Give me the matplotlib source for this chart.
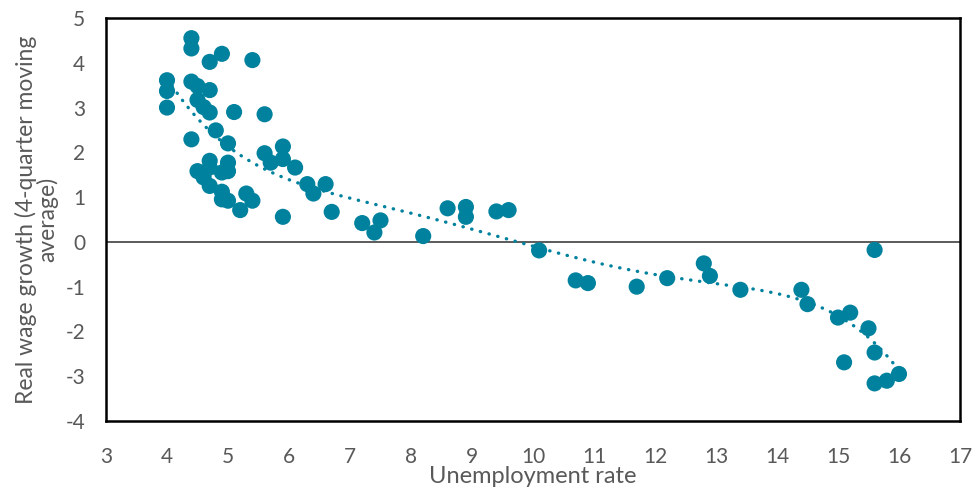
import matplotlib.pyplot as plt
import numpy as np

plt.rcParams['font.family'] = ['Lato', 'DejaVu Sans']
plt.rcParams['axes.unicode_minus'] = False

unemployment = [4.0, 4.0, 4.0, 4.4, 4.4, 4.4, 4.4, 4.5, 4.5, 4.6,
                4.7, 4.7, 4.7, 4.9, 5.4, 5.1, 5.6, 4.8, 5.0, 5.6,
                5.9, 5.7, 5.9, 6.1, 6.3, 6.4, 6.6, 6.7, 5.9, 4.5,
                4.7, 4.7, 5.0, 5.0, 4.6, 4.7, 4.9, 4.9, 4.9, 5.0,
                5.3, 5.4, 5.2,
                7.2, 7.4, 7.5, 8.2, 8.6, 8.9, 8.9, 9.4, 9.6,
                10.1, 10.7, 10.9, 11.7, 12.2, 12.8, 12.9, 13.4, 14.4, 14.5,
                15.0, 15.2, 15.5, 15.6, 15.6, 15.1, 15.6, 15.8, 16.0]
wage_growth = [3.61, 3.37, 3.0, 4.55, 4.32, 3.58, 2.29, 3.48, 3.17, 3.01,
               4.02, 3.39, 2.89, 4.20, 4.06, 2.90, 2.85, 2.49, 2.20, 1.98,
               2.13, 1.77, 1.85, 1.66, 1.29, 1.08, 1.29, 0.67, 0.56, 1.58,
               1.81, 1.66, 1.77, 1.58, 1.44, 1.25, 1.55, 1.12, 0.95, 0.92,
               1.08, 0.92, 0.71,
               0.42, 0.21, 0.48, 0.13, 0.75, 0.78, 0.56, 0.68, 0.71,
               -0.19, -0.86, -0.92, -1.0, -0.81, -0.48, -0.76, -1.07, -1.07, -1.39,
               -1.69, -1.58, -1.93, -0.18, -2.47, -2.69, -3.16, -3.10, -2.95]

x_ticks = list(range(3, 18))
y_ticks = list(range(-4, 6))

teal = '#00819D'
grey = '#595959'

fig = plt.figure(figsize=(9.75, 4.88), dpi=100)
ax = fig.add_axes([106 / 975, 1 - 421 / 488, 854 / 975, 403 / 488])

ax.axhline(0, color='#404040', lw=1.2, zorder=1)

# polynomial trendline
x = np.array(unemployment)
y = np.array(wage_growth)
coef = np.polyfit(x, y, 5)
xs = np.linspace(x.min(), x.max(), 300)
ax.plot(xs, np.polyval(coef, xs), color=teal, lw=2.4,
        linestyle=(0, (0.1, 2.6)), dash_capstyle='round', zorder=2)

ax.scatter(unemployment, wage_growth, s=135, color=teal, edgecolors='none', zorder=3)

ax.set_xlim(3, 17)
ax.set_ylim(-4, 5)
ax.set_xticks(x_ticks)
ax.set_yticks(y_ticks)
ax.tick_params(length=0, labelsize=15, labelcolor=grey)
ax.tick_params(axis='x', pad=19)
ax.tick_params(axis='y', pad=15)
for s in ax.spines.values():
    s.set_linewidth(1.8)
    s.set_color('black')

ax.set_xlabel('Unemployment rate', fontsize=17, color=grey, labelpad=-1)
ax.set_ylabel('Real wage growth (4-quarter moving\naverage)', fontsize=16.5,
              color=grey, linespacing=0.95, labelpad=5)

fig.text(0.005, -0.045, 'Source: Mathur et al. (2017)', fontsize=17, color=grey, va='bottom')

fig.savefig('out.png', dpi=100)
